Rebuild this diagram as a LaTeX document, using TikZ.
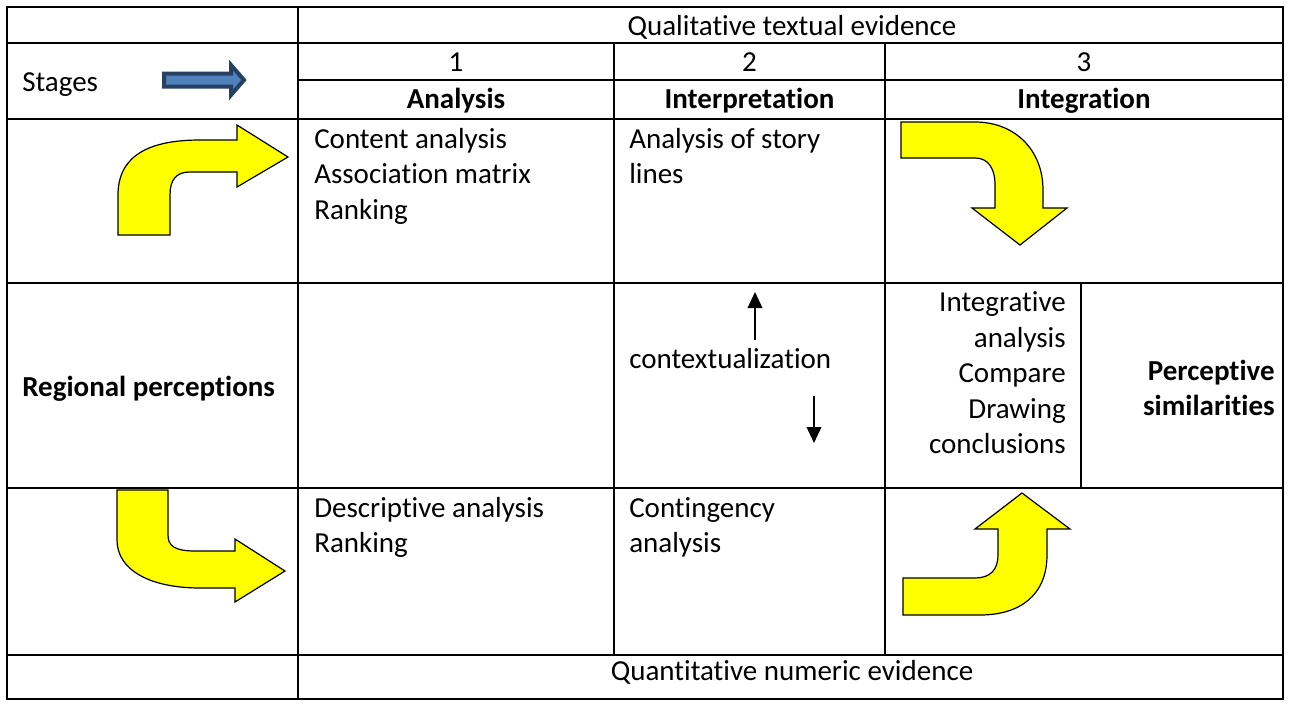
\documentclass[tikz,border=0pt]{standalone}
\usepackage{fontspec}
\setmainfont{Carlito}[Ligatures={NoCommon,NoRare,NoContextual}]
\usetikzlibrary{arrows.meta}
\definecolor{stagefill}{RGB}{79,129,189}
\definecolor{stageline}{RGB}{38,64,98}
\definecolor{yel}{RGB}{255,255,0}
\begin{document}
\begin{tikzpicture}[x=0.75pt,y=-0.75pt,
  grid/.style={line width=1.7pt, line cap=rect},
  txt/.style={inner sep=0pt, font=\fontsize{21.75}{26}\selectfont},
  lft/.style={txt, anchor=base west},
  rgt/.style={txt, anchor=base east},
  ctr/.style={txt, anchor=base},
  bf/.style={font=\fontsize{21.75}{26}\selectfont\bfseries},
  yarrow/.style={fill=yel, draw=black, line width=0.9pt, line join=miter},
  thinarrow/.style={line width=1.1pt, -{Triangle[width=11pt,length=12pt]}}]
\useasboundingbox (0,0) rectangle (1289,704);
\fill[white] (0,0) rectangle (1289,704);

% table grid
\draw[grid] (7,7) rectangle (1283,699);
\draw[grid] (7,43) -- (1283,43);
\draw[grid] (298,80) -- (1283,80);
\draw[grid] (7,119) -- (1283,119);
\draw[grid] (7,283) -- (1283,283);
\draw[grid] (7,488) -- (1283,488);
\draw[grid] (7,655) -- (1283,655);
\draw[grid] (298,7) -- (298,699);
\draw[grid] (614,43) -- (614,655);
\draw[grid] (885,43) -- (885,655);
\draw[grid] (1081,283) -- (1081,488);

% stages arrow
\draw[fill=stagefill, draw=stageline, line width=3pt, line join=miter]
  (164,73.5) -- (231,73.5) -- (231,65) -- (244,80) -- (231,95) -- (231,86.5) -- (164,86.5) -- cycle;

% yellow bent arrows
\draw[yarrow] (118,235) -- (118,195) .. controls (118,155) and (150,140) .. (200,140)
  -- (237,140) -- (237,125) -- (288,157) -- (237,187) -- (237,172) -- (190,172)
  .. controls (176,172) and (170,180) .. (170,195) -- (170,235) -- cycle;
\draw[yarrow] (117,490) -- (168,490) -- (168,535) .. controls (168,546) and (175,551) .. (195,551)
  -- (235,551) -- (235,539) -- (285,571) -- (235,602) -- (235,588) -- (200,588)
  .. controls (150,588) and (117,570) .. (117,540) -- cycle;
\draw[yarrow] (901,122) -- (975,122) .. controls (1015,122) and (1043,150) .. (1043,190)
  -- (1043,208) -- (1067,208) -- (1020,245) -- (972,208) -- (995,208) -- (995,185)
  .. controls (995,168) and (988,158) .. (975,158) -- (901,158) -- cycle;
\draw[yarrow] (903,578) -- (975,578) .. controls (990,578) and (998,570) .. (998,555)
  -- (998,529) -- (975,529) -- (1022,493) -- (1070,529) -- (1047,529) -- (1047,555)
  .. controls (1047,595) and (1020,615) .. (980,615) -- (903,615) -- cycle;

% contextualization arrows
\coordinate (upA) at (755,340);
\coordinate (upB) at (755,292);
\coordinate (dnA) at (814,396);
\coordinate (dnB) at (814,443);
\draw[thinarrow] (upA) -- (upB);
\draw[thinarrow] (dnA) -- (dnB);

% header texts
\node[ctr] (qual) at (792,35) {Qualitative textual evidence};
\node[ctr] (n1) at (456,71.5) {1};
\node[ctr] (n2) at (749.5,71.5) {2};
\node[ctr] (n3) at (1084,71.5) {3};
\node[ctr,bf] (h1) at (456,108.5) {Analysis};
\node[ctr,bf] (h2) at (749.5,108.5) {Interpretation};
\node[ctr,bf] (h3) at (1084,108.5) {Integration};
\node[lft] (stages) at (22,91) {Stages};

% body texts
\node[lft] (ca1) at (314,148) {Content analysis};
\node[lft] (ca2) at (314,183.5) {Association matrix};
\node[lft] (ca3) at (314,219) {Ranking};
\node[lft] (st1) at (629,148) {Analysis of story};
\node[lft] (st2) at (629,183.5) {lines};
\node[lft] (ctx) at (629,368) {contextualization};
\node[rgt] (ia1) at (1066,311.5) {Integrative};
\node[rgt] (ia2) at (1066,347) {analysis};
\node[rgt] (ia3) at (1066,382.5) {Compare};
\node[rgt] (ia4) at (1066,418) {Drawing};
\node[rgt] (ia5) at (1066,453.5) {conclusions};
\node[rgt,bf] (ps1) at (1275,380) {Perceptive};
\node[rgt,bf] (ps2) at (1275,415) {similarities};
\node[lft,bf] (reg) at (22,396) {Regional perceptions};
\node[lft] (da1) at (314,517) {Descriptive analysis};
\node[lft] (da2) at (314,552.5) {Ranking};
\node[lft] (cg1) at (629,517) {Contingency};
\node[lft] (cg2) at (629,552.5) {analysis};
\node[ctr] (quant) at (792,680) {Quantitative numeric evidence};
\end{tikzpicture}
\end{document}
